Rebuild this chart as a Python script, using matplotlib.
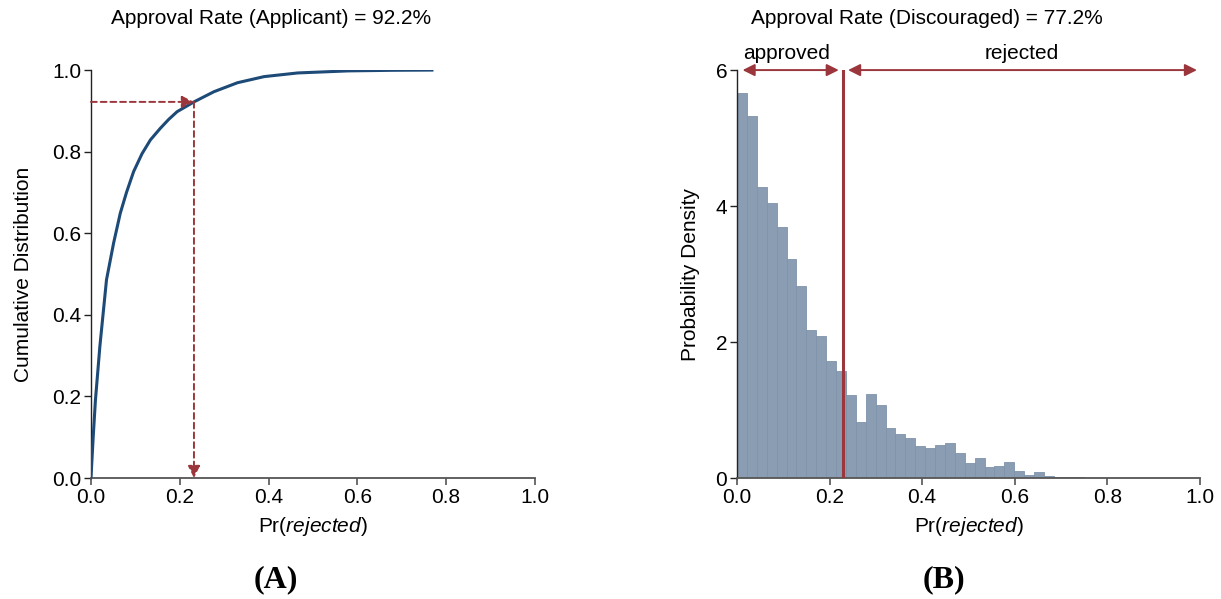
import numpy as np
import matplotlib
matplotlib.use("Agg")
import matplotlib.pyplot as plt

plt.rcParams['font.family'] = ['Liberation Sans', 'DejaVu Sans']
plt.rcParams['mathtext.fontset'] = 'custom'
plt.rcParams['mathtext.rm'] = 'Liberation Sans'
plt.rcParams['mathtext.it'] = 'Liberation Sans:italic'

# panel A: cumulative distribution of Pr(rejected) for applicants
cdf_x = [0.0, 0.005, 0.010, 0.020, 0.035, 0.051, 0.066, 0.080, 0.096, 0.115,
         0.134, 0.156, 0.175, 0.194, 0.232, 0.277, 0.330, 0.390, 0.466,
         0.579, 0.680, 0.768]
cdf_y = [0.0, 0.10, 0.19, 0.322, 0.486, 0.576, 0.649, 0.700, 0.751, 0.795,
         0.829, 0.857, 0.879, 0.898, 0.922, 0.947, 0.969, 0.984, 0.993,
         0.998, 0.9995, 1.0]
cutoff = 0.229
rate_applicant = 0.922

# panel B: histogram of Pr(rejected) for discouraged borrowers
bin_width = 0.0214
density = [5.66, 5.32, 4.28, 4.04, 3.69, 3.22, 2.83, 2.18, 2.09, 1.72,
           1.58, 1.22, 0.83, 1.24, 1.08, 0.73, 0.65, 0.59, 0.47, 0.435,
           0.485, 0.52, 0.37, 0.22, 0.29, 0.16, 0.17, 0.24, 0.10, 0.05,
           0.09, 0.035, 0.02, 0.02, 0.01]

red = '#9b373c'
blue = '#1d4a77'
bar_col = '#8a9db3'
tick_col = '#555555'
fs = 15

fig = plt.figure(figsize=(12.21, 5.99), dpi=100)
ax1 = fig.add_axes([0.0745, 0.202, 0.3636, 0.681])
ax2 = fig.add_axes([0.6036, 0.202, 0.379, 0.681])

for ax in (ax1, ax2):
    for s in ('top', 'right'):
        ax.spines[s].set_visible(False)
    ax.spines['bottom'].set_color(tick_col)
    ax.spines['left'].set_color('#222222')
    ax.spines['bottom'].set_linewidth(1.3)
    ax.spines['left'].set_linewidth(1.0)
    ax.tick_params(axis='x', colors=tick_col, labelcolor='black', length=5,
                   width=1.2, labelsize=fs, pad=2)
    ax.tick_params(axis='y', colors='#222222', labelcolor='black', length=5,
                   width=1.0, labelsize=fs, pad=2)
    ax.set_xlim(0, 1.0)
    ax.set_xticks([0, 0.2, 0.4, 0.6, 0.8, 1.0])
    ax.set_xticklabels(['0.0', '0.2', '0.4', '0.6', '0.8', '1.0'])
    ax.set_xlabel(r'Pr($\it{rejected}$)', fontsize=fs, labelpad=6)

# --- panel A
ax1.plot(cdf_x, cdf_y, color=blue, lw=2.2, zorder=3)
ax1.set_ylim(0, 1.0)
ax1.set_yticks([0, 0.2, 0.4, 0.6, 0.8, 1.0])
ax1.set_yticklabels(['0.0', '0.2', '0.4', '0.6', '0.8', '1.0'])
ax1.set_ylabel('Cumulative Distribution', fontsize=fs, labelpad=14)
ax1.set_title('Approval Rate (Applicant) = 92.2%', fontsize=fs, pad=33,
              x=0.405)
ax1.annotate('', xy=(cutoff + 0.003, rate_applicant), xytext=(0, rate_applicant),
             arrowprops=dict(arrowstyle='-|>', color=red, lw=1.4, ls=(0, (3, 2)),
                             mutation_scale=18, shrinkA=0, shrinkB=0))
ax1.annotate('', xy=(cutoff + 0.003, 0.0), xytext=(cutoff + 0.003, rate_applicant),
             arrowprops=dict(arrowstyle='-|>', color=red, lw=1.4, ls=(0, (3, 2)),
                             mutation_scale=18, shrinkA=0, shrinkB=0))

# --- panel B
edges = np.arange(len(density)) * bin_width
ax2.bar(edges, density, width=bin_width, align='edge', color=bar_col,
        edgecolor='#7f93aa', linewidth=0.6, zorder=2)
ax2.axvline(cutoff, color=red, lw=2.2, zorder=3)
ax2.set_ylim(0, 6)
ax2.set_yticks([0, 2, 4, 6])
ax2.set_ylabel('Probability Density', fontsize=fs, labelpad=11)
ax2.set_title('Approval Rate (Discouraged) = 77.2%', fontsize=fs, pad=33,
              x=0.41)
arrow_kw = dict(arrowstyle='<|-|>', color=red, lw=1.4, mutation_scale=18,
                shrinkA=0, shrinkB=0)
ax2.annotate('', xy=(0.012, 6), xytext=(0.220, 6), arrowprops=arrow_kw,
             annotation_clip=False)
ax2.annotate('', xy=(0.240, 6), xytext=(0.994, 6), arrowprops=arrow_kw,
             annotation_clip=False)
ax2.text(0.108, 6.1, 'approved', ha='center', va='bottom', fontsize=fs)
ax2.text(0.615, 6.1, 'rejected', ha='center', va='bottom', fontsize=fs)

fig.text(0.226, 0.032, '(A)', ha='center', va='center', fontsize=23,
         fontweight='bold', family='Liberation Serif')
fig.text(0.773, 0.032, '(B)', ha='center', va='center', fontsize=23,
         fontweight='bold', family='Liberation Serif')

fig.savefig('out.png', dpi=100)
